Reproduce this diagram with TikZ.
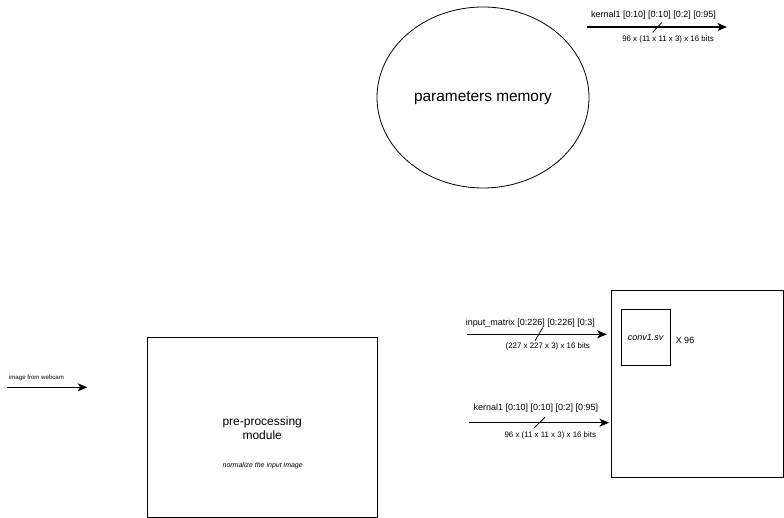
\documentclass[tikz,border=0pt]{standalone}
\usepackage{fontspec}
\setmainfont{Liberation Sans}
\usetikzlibrary{shapes.geometric,arrows.meta}
\begin{document}
\begin{tikzpicture}[x=1pt,y=-1pt,
  box/.style={draw,line width=1pt,inner sep=0pt},
  sig/.style={line width=1.1pt,-{Stealth[length=9.5pt,width=8pt,inset=2.5pt]}},
  slash/.style={line width=0.8pt},
  lbl/.style={inner sep=0pt,font=\fontsize{9}{10}\selectfont},
  sub/.style={inner sep=0pt,font=\fontsize{7.9}{9}\selectfont}]
\useasboundingbox (0,0) rectangle (784,518);
% parameters memory
\node[ellipse,draw,line width=0.8pt,minimum width=212pt,minimum height=181pt,inner sep=0pt,
  font=\fontsize{15.4}{17}\selectfont] (mem) at (483,97.5) {};
\node[inner sep=0pt,font=\fontsize{15.4}{17}\selectfont] (memt) at (483,98.5) {parameters memory};
% top arrow
\coordinate (k0s) at (587,27);
\coordinate (k0e) at (727,27);
\draw[sig] (k0s) -- (k0e);
\coordinate (k0a) at (652.7,32.3);
\coordinate (k0b) at (662,22.3);
\draw[slash] (k0a) -- (k0b);
\node[lbl] (k0l) at (653.5,15) {kernal1 [0:10] [0:10] [0:2] [0:95]};
\node[sub] (k0u) at (668,39.5) {96 x (11 x 11 x 3) x 16 bits};
% pre-processing
\node[box,minimum width=230.4pt,minimum height=180pt] (pre) at (262.5,427.3) {};
\node[inner sep=0pt,align=center,font=\fontsize{12}{13.3}\selectfont] (pret) at (262.2,428.3) {pre-processing\\module};
\node[inner sep=0pt,font=\itshape\fontsize{7}{8}\selectfont] (pren) at (262.7,466) {normalize the input image};
% webcam arrow
\coordinate (w0) at (7.3,387.3);
\coordinate (w1) at (87.3,387.3);
\draw[sig] (w0) -- (w1);
\node[inner sep=0pt,font=\fontsize{6.1}{7}\selectfont] (wl) at (36.5,377.7) {image from webcam};
% big box
\node[box,minimum width=171.3pt,minimum height=186.3pt] (big) at (697.35,383.85) {};
\node[box,minimum width=49pt,minimum height=55.7pt,font=\itshape\fontsize{9}{10}\selectfont] (conv) at (645.5,337.15) {conv1.sv};
\node[inner sep=0pt,font=\fontsize{9}{10}\selectfont] (x96) at (685,340) {X 96};
% input arrow
\coordinate (i0) at (467,334.3);
\coordinate (i1) at (606.7,334.3);
\draw[sig] (i0) -- (i1);
\coordinate (ia) at (535,340.7);
\coordinate (ib) at (542.7,327.7);
\draw[slash] (ia) -- (ib);
\node[lbl] (il) at (530.3,323.3) {input\_matrix [0:226] [0:226] [0:3]};
\node[sub] (iu) at (547.8,346) {(227 x 227 x 3) x 16 bits};
% kernel arrow
\coordinate (k1s) at (469.3,422.7);
\coordinate (k1e) at (609,422.7);
\draw[sig] (k1s) -- (k1e);
\coordinate (k1a) at (534.3,427.7);
\coordinate (k1b) at (545,417.3);
\draw[slash] (k1a) -- (k1b);
\node[lbl] (k1l) at (535.8,408.3) {kernal1 [0:10] [0:10] [0:2] [0:95]};
\node[sub] (k1u) at (550.3,435) {96 x (11 x 11 x 3) x 16 bits};
\end{tikzpicture}
\end{document}
